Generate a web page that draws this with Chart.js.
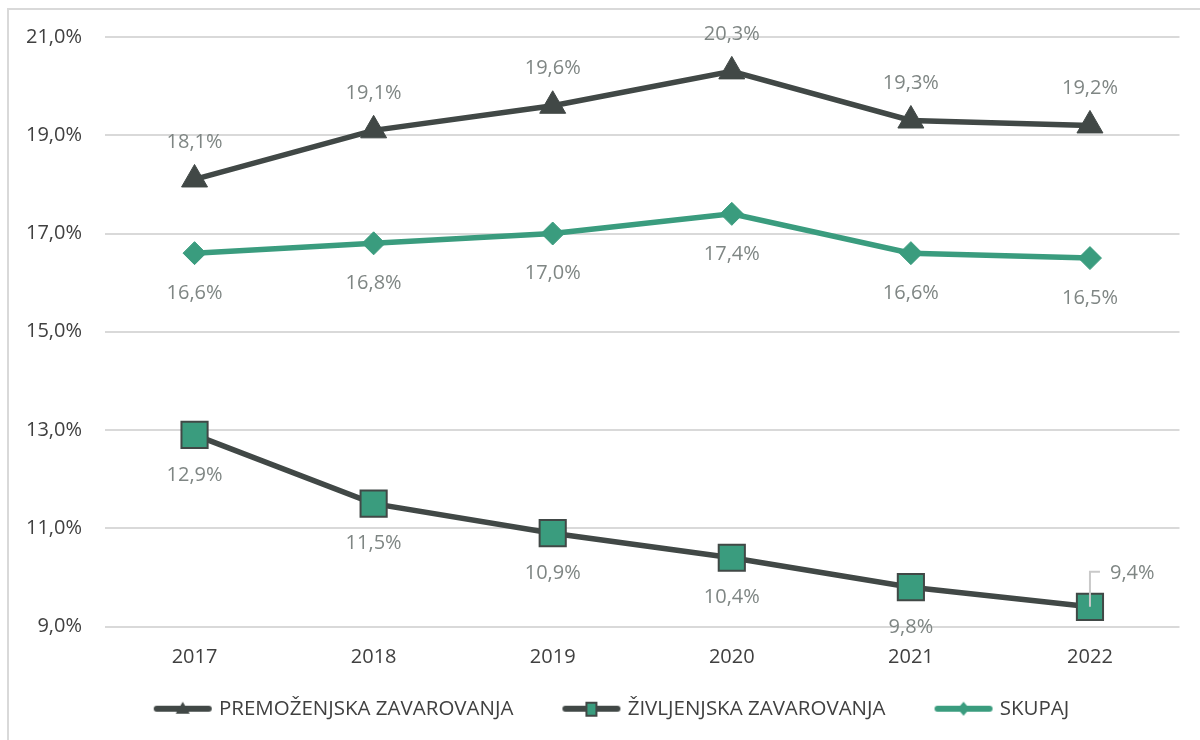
<!DOCTYPE html>
<html>
<head>
<meta charset="utf-8">
<script src="https://cdn.jsdelivr.net/npm/chart.js@4.4.1/dist/chart.umd.min.js"></script>
<style>
    html, body { margin: 0; padding: 0; background: #fff; }
    #wrap { width: 1200px; height: 740px; position: relative; }
</style>
</head>
<body>
<div id="wrap"><canvas id="myChart" width="1200" height="740"></canvas></div>
<script>
// Data
const years = ['2017', '2018', '2019', '2020', '2021', '2022'];
const premozenjska = [18.1, 19.1, 19.6, 20.3, 19.3, 19.2];
const zivljenjska = [12.9, 11.5, 10.9, 10.4, 9.8, 9.4];
const skupaj = [16.6, 16.8, 17.0, 17.4, 16.6, 16.5];
const yTicks = [9, 11, 13, 15, 17, 19, 21];

const dark = '#414846';
const green = '#3a9c7e';
const gridColor = '#d9d9d9';
const textColor = '#404040';
const labelColor = '#7f8684';

Chart.defaults.font.family = '"Open Sans", sans-serif';

function fmt(v) {
    return v.toFixed(1).replace('.', ',') + '%';
}

// small canvases for the legend: line + marker like in Excel
// (blank strip on the left gives the gap between legend items)
function legendIcon(kind) {
    const c = document.createElement('canvas');
    c.width = 84; c.height = 20;
    const g = c.getContext('2d');
    g.lineCap = 'round';
    g.lineWidth = 6;
    g.strokeStyle = kind === 'skupaj' ? green : dark;
    g.beginPath(); g.moveTo(28, 10); g.lineTo(80, 10); g.stroke();
    if (kind === 'tri') {
        g.fillStyle = dark;
        g.beginPath(); g.moveTo(54, 3); g.lineTo(61, 15); g.lineTo(47, 15); g.closePath(); g.fill();
    } else if (kind === 'sq') {
        g.fillStyle = green; g.strokeStyle = dark; g.lineWidth = 2;
        g.fillRect(49, 4, 10, 13); g.strokeRect(49, 4, 10, 13);
    } else {
        g.fillStyle = green;
        g.beginPath(); g.moveTo(54, 3); g.lineTo(60, 10); g.lineTo(54, 17); g.lineTo(48, 10); g.closePath(); g.fill();
    }
    return c;
}
const icons = [legendIcon('tri'), legendIcon('sq'), legendIcon('skupaj')];

// outer border of the chart box (top + left)
const frame = {
    id: 'frame',
    beforeDraw(chart) {
        const ctx = chart.ctx;
        ctx.save();
        ctx.strokeStyle = gridColor;
        ctx.lineWidth = 2;
        ctx.beginPath();
        ctx.moveTo(8, 740);
        ctx.lineTo(8, 9);
        ctx.lineTo(1200, 9);
        ctx.stroke();
        ctx.restore();
    }
};

// value labels next to the points
const pointLabels = {
    id: 'pointLabels',
    afterDatasetsDraw(chart) {
        const ctx = chart.ctx;
        ctx.save();
        ctx.font = '20px "Open Sans"';
        ctx.fillStyle = labelColor;
        ctx.textBaseline = 'middle';
        chart.data.datasets.forEach((ds, i) => {
            const meta = chart.getDatasetMeta(i);
            meta.data.forEach((pt, j) => {
                const txt = fmt(ds.data[j]);
                if (ds.leaderIndex === j) {
                    // 9,4% sits up-right with a small leader line
                    ctx.strokeStyle = '#c9c9c9';
                    ctx.lineWidth = 2;
                    ctx.beginPath();
                    ctx.moveTo(pt.x, pt.y);
                    ctx.lineTo(pt.x, pt.y - 35);
                    ctx.lineTo(pt.x + 10, pt.y - 35);
                    ctx.stroke();
                    ctx.textAlign = 'left';
                    ctx.fillText(txt, pt.x + 20, pt.y - 34);
                } else {
                    ctx.textAlign = 'center';
                    ctx.fillText(txt, pt.x, pt.y + ds.labelOffset);
                }
            });
        });
        ctx.restore();
    }
};

const ctx = document.getElementById('myChart').getContext('2d');
new Chart(ctx, {
    type: 'line',
    data: {
        labels: years,
        datasets: [{
            label: 'PREMOŽENJSKA ZAVAROVANJA',
            data: premozenjska,
            borderColor: dark,
            borderWidth: 5.5,
            pointStyle: 'triangle',
            pointRadius: 15,
            pointBackgroundColor: dark,
            pointBorderColor: dark,
            pointBorderWidth: 1,
            labelOffset: -37
        }, {
            label: 'ŽIVLJENJSKA ZAVAROVANJA',
            data: zivljenjska,
            borderColor: dark,
            borderWidth: 5.5,
            pointStyle: 'rect',
            pointRadius: 18.5,
            pointBackgroundColor: green,
            pointBorderColor: dark,
            pointBorderWidth: 2,
            labelOffset: 40,
            leaderIndex: 5
        }, {
            label: 'SKUPAJ',
            data: skupaj,
            borderColor: green,
            borderWidth: 5.5,
            pointStyle: 'rectRot',
            pointRadius: 11.5,
            pointBackgroundColor: green,
            pointBorderColor: green,
            pointBorderWidth: 1,
            labelOffset: 40
        }]
    },
    options: {
        responsive: false,
        animation: false,
        layout: { padding: { top: 37, right: 18, bottom: 11, left: 20 } },
        elements: { line: { tension: 0 } },
        scales: {
            x: {
                offset: true,
                grid: { display: false, drawTicks: false, offset: true },
                border: { display: false },
                ticks: { color: textColor, font: { size: 20 }, padding: 19 },
                afterFit(scale) { scale.height = 44; }
            },
            y: {
                min: 9,
                max: 21,
                afterBuildTicks(scale) { scale.ticks = yTicks.map(v => ({ value: v })); },
                afterFit(scale) { scale.width = 85; },
                grid: { color: gridColor, lineWidth: 2, drawTicks: false },
                border: { display: false },
                ticks: { color: textColor, font: { size: 20 }, padding: 23, callback: v => fmt(v) }
            }
        },
        plugins: {
            tooltip: { enabled: false },
            legend: {
                position: 'bottom',
                labels: {
                    color: textColor,
                    font: { size: 20.5 },
                    usePointStyle: true,
                    pointStyleWidth: 76,
                    boxHeight: 18,
                    padding: 28,
                    generateLabels(chart) {
                        return chart.data.datasets.map((ds, i) => ({
                            text: ds.label,
                            pointStyle: icons[i],
                            fillStyle: '#fff',
                            strokeStyle: '#fff',
                            lineWidth: 0,
                            hidden: false,
                            datasetIndex: i,
                            fontColor: textColor
                        }));
                    }
                }
            }
        }
    },
    plugins: [frame, pointLabels]
});
</script>
</body>
</html>
